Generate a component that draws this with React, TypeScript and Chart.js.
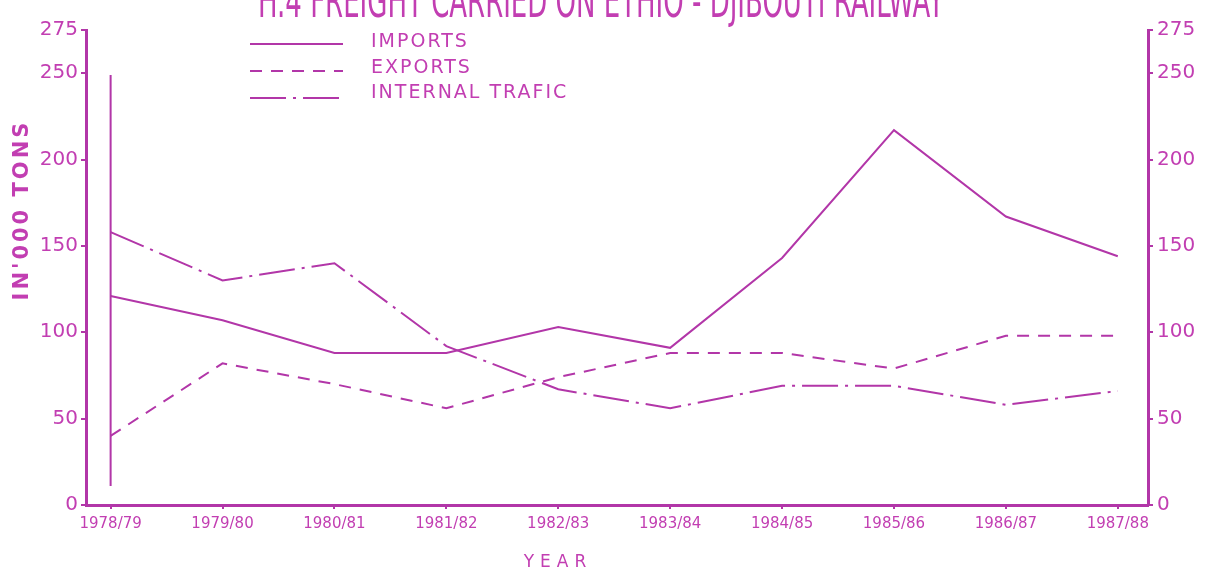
import React, { useEffect, useRef } from "react";
import { Chart, registerables } from "chart.js";

Chart.register(...registerables);

// ---- data ----
const categories = [
  "1978/79", "1979/80", "1980/81", "1981/82", "1982/83",
  "1983/84", "1984/85", "1985/86", "1986/87", "1987/88",
];
const importsValues = [121, 107, 88, 88, 103, 91, 143, 217, 167, 144];
const exportsValues = [40, 82, 70, 56, 74, 88, 88, 79, 98, 98];
const internalValues = [158, 130, 140, 92, 67, 56, 69, 69, 58, 66];
// vertical stroke drawn at the first year
const startStrokeValues = [11, 249];
const yTickValues = [0, 50, 100, 150, 200, 250, 275];

const seriesLabels = ["IMPORTS", "EXPORTS", "INTERNAL TRAFIC"];
const TITLE = "H.4 FREIGHT CARRIED ON ETHIO - DJIBOUTI RAILWAY";
const Y_TITLE = "IN'000 TONS";
const X_TITLE = "YEAR";

const LINE = "#b236a8";
const TEXT = "#c23eb2";
const FONT = '"DejaVu Sans", sans-serif';

const decorPlugin = {
  id: "decor",
  afterDraw(chart: any) {
    const ctx = chart.ctx as CanvasRenderingContext2D;
    ctx.save();
    ctx.fillStyle = TEXT;

    // title (cut at the top edge)
    ctx.save();
    ctx.font = `26px ${FONT}`;
    ctx.textAlign = "left";
    ctx.textBaseline = "alphabetic";
    ctx.translate(258, 17);
    ctx.scale(1, 1.75);
    ctx.fillText(TITLE, 0, 0);
    ctx.restore();

    // legend
    const rows = [
      { y: 44, ty: 42 },
      { y: 71, ty: 68 },
      { y: 98, ty: 93 },
    ];
    ctx.font = `19px ${FONT}`;
    ctx.textBaseline = "middle";
    ctx.textAlign = "left";
    for (let i = 0; i < 3; i++) {
      const ds = chart.data.datasets[i];
      ctx.save();
      ctx.strokeStyle = LINE;
      ctx.lineWidth = 2;
      ctx.setLineDash(ds.borderDash || []);
      ctx.beginPath();
      ctx.moveTo(250, rows[i].y);
      ctx.lineTo(343, rows[i].y);
      ctx.stroke();
      ctx.restore();
      ctx.save();
      (ctx as any).letterSpacing = "2px";
      ctx.fillText(ds.label, 371, rows[i].ty);
      ctx.restore();
    }

    // y title
    ctx.save();
    ctx.translate(23, 210);
    ctx.rotate(-Math.PI / 2);
    ctx.font = `bold 21px ${FONT}`;
    ctx.textAlign = "center";
    ctx.textBaseline = "middle";
    (ctx as any).letterSpacing = "3px";
    ctx.fillText(Y_TITLE, 0, 0);
    ctx.restore();

    // x title
    ctx.save();
    ctx.font = `17px ${FONT}`;
    ctx.textAlign = "center";
    ctx.textBaseline = "middle";
    (ctx as any).letterSpacing = "6px";
    ctx.fillText(X_TITLE, 558, 563);
    ctx.restore();

    ctx.restore();
  },
};

export default function App() {
  const ref = useRef<HTMLCanvasElement>(null);

  useEffect(() => {
    if (!ref.current) return;
    const pts = (vals: number[]) => vals.map((v, i) => ({ x: i, y: v }));
    const yAxisCommon = {
      type: "linear" as const,
      min: 0,
      max: 275,
      afterBuildTicks: (scale: any) => {
        scale.ticks = yTickValues.map((v) => ({ value: v }));
      },
      grid: {
        drawOnChartArea: false,
        drawTicks: true,
        tickLength: 5,
        tickColor: LINE,
        lineWidth: 2,
      },
      border: { display: true, color: LINE, width: 3 },
    };

    const chart = new Chart(ref.current, {
      type: "line",
      data: {
        datasets: [
          {
            label: seriesLabels[0],
            data: pts(importsValues),
            borderColor: LINE,
            borderWidth: 2,
            pointRadius: 0,
            tension: 0,
            yAxisID: "y",
          },
          {
            label: seriesLabels[1],
            data: pts(exportsValues),
            borderColor: LINE,
            borderWidth: 2,
            borderDash: [12, 9],
            pointRadius: 0,
            tension: 0,
            yAxisID: "y",
          },
          {
            label: seriesLabels[2],
            data: pts(internalValues),
            borderColor: LINE,
            borderWidth: 2,
            borderDash: [36, 7, 3, 7],
            pointRadius: 0,
            tension: 0,
            yAxisID: "y",
          },
          {
            label: "",
            data: startStrokeValues.map((v) => ({ x: 0, y: v })),
            borderColor: LINE,
            borderWidth: 2,
            pointRadius: 0,
            yAxisID: "y",
          },
        ],
      },
      options: {
        responsive: false,
        animation: false,
        maintainAspectRatio: false,
        layout: { padding: { top: 30, left: 0, right: 0, bottom: 0 } },
        plugins: {
          legend: { display: false },
          tooltip: { enabled: false },
          title: { display: false },
        },
        scales: {
          x: {
            type: "linear",
            min: -0.22,
            max: 9.27,
            afterBuildTicks: (scale: any) => {
              scale.ticks = categories.map((_, i) => ({ value: i }));
            },
            afterFit: (scale: any) => {
              scale.height = 70;
            },
            ticks: {
              color: TEXT,
              font: { family: FONT, size: 15 },
              padding: 6,
              maxRotation: 0,
              autoSkip: false,
              callback: (v: any) => categories[Math.round(Number(v))] ?? "",
            },
            grid: {
              drawOnChartArea: false,
              drawTicks: true,
              tickLength: 4,
              tickColor: LINE,
              lineWidth: 2,
            },
            border: { display: true, color: LINE, width: 3 },
          },
          y: {
            ...yAxisCommon,
            position: "left",
            afterFit: (scale: any) => {
              scale.width = 86;
            },
            ticks: {
              color: TEXT,
              font: { family: FONT, size: 20 },
              padding: 3,
            },
          },
          y1: {
            ...yAxisCommon,
            position: "right",
            afterFit: (scale: any) => {
              scale.width = 63;
            },
            ticks: {
              color: TEXT,
              font: { family: FONT, size: 20 },
              padding: 4,
            },
          },
        },
      },
      plugins: [decorPlugin],
    });
    return () => chart.destroy();
  }, []);

  return (
    <div
      style={{
        position: "fixed",
        left: 0,
        top: 0,
        width: 1211,
        height: 575,
        background: "#ffffff",
      }}
    >
      <canvas
        ref={ref}
        width={1211}
        height={575}
        style={{ width: 1211, height: 575, display: "block" }}
      />
    </div>
  );
}
